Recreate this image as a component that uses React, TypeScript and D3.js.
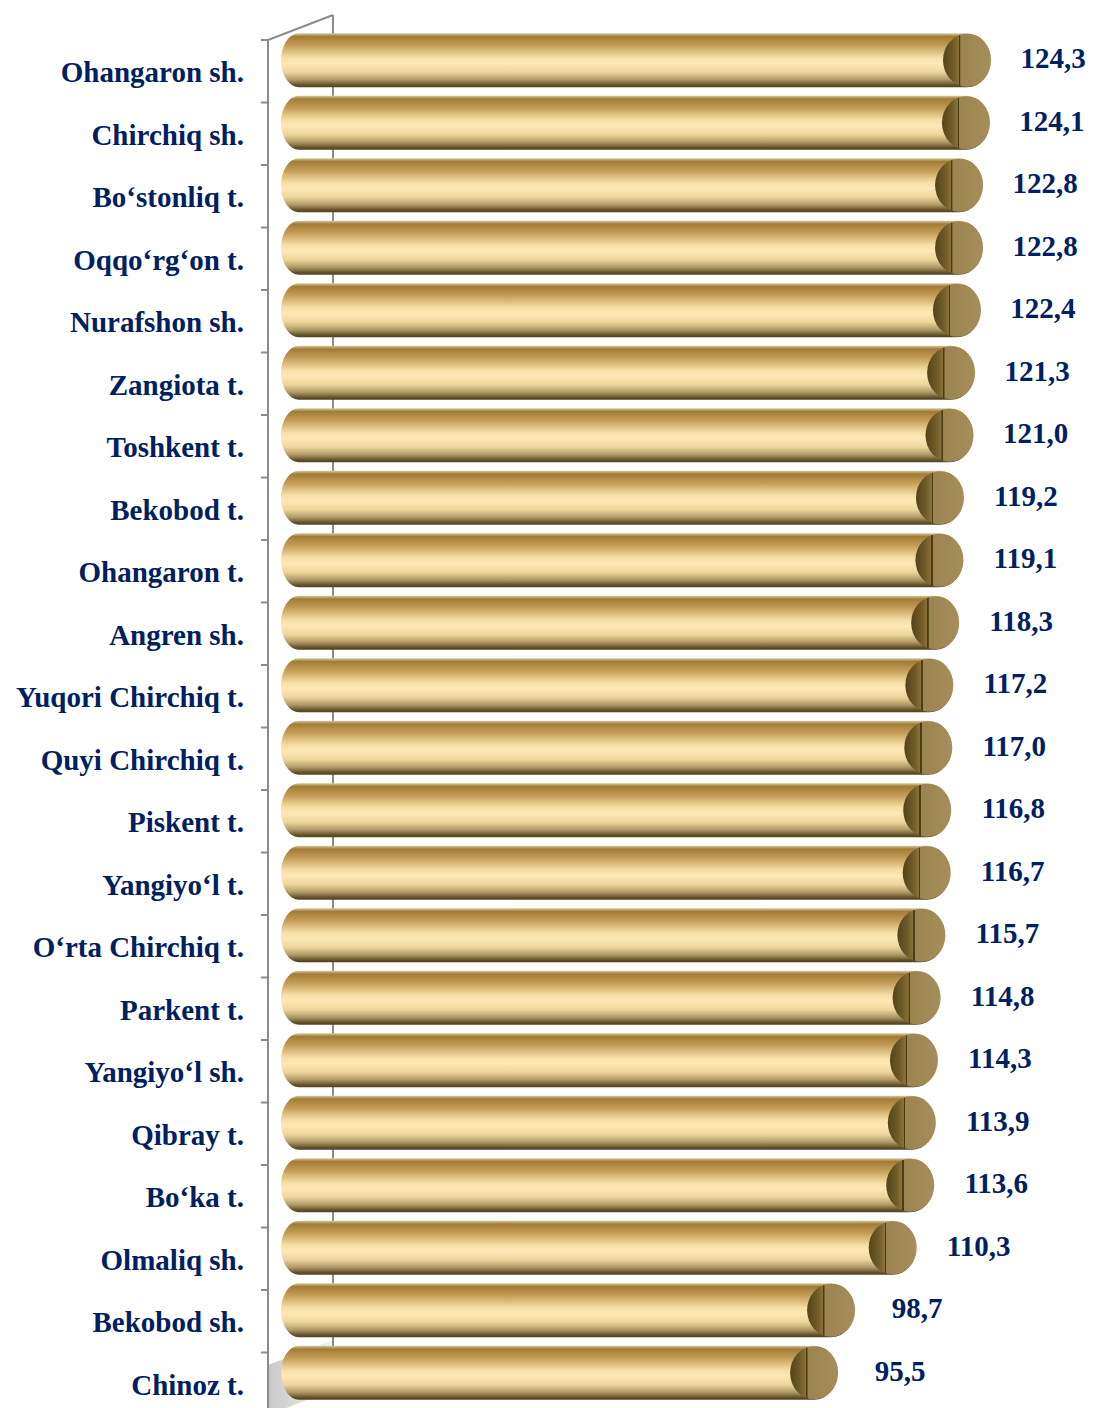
import * as d3 from 'd3';

const categories = [
  'Ohangaron sh.', 'Chirchiq sh.', 'Bo‘stonliq t.', 'Oqqo‘rg‘on t.', 'Nurafshon sh.',
  'Zangiota t.', 'Toshkent t.', 'Bekobod t.', 'Ohangaron t.', 'Angren sh.',
  'Yuqori Chirchiq t.', 'Quyi Chirchiq t.', 'Piskent t.', 'Yangiyo‘l t.', 'O‘rta Chirchiq t.',
  'Parkent t.', 'Yangiyo‘l sh.', 'Qibray t.', 'Bo‘ka t.', 'Olmaliq sh.',
  'Bekobod sh.', 'Chinoz t.',
];
const values = [
  124.3, 124.1, 122.8, 122.8, 122.4, 121.3, 121.0, 119.2, 119.1, 118.3, 117.2,
  117.0, 116.8, 116.7, 115.7, 114.8, 114.3, 113.9, 113.6, 110.3, 98.7, 95.5,
];

const W = 1102;
const H = 1408;
const frontX = 268;
const backX = 333;
const depth = 25; // vertical shift between front and back wall
const top = 40;
const navy = '#002060';
const axisGray = '#8c8c8c';

const fmt = (v: number) => d3.format('.1f')(v).replace('.', ',');

export default function App() {
  const y = d3.scaleBand<string>().domain(categories).range([top, top + categories.length * 62.5]).paddingInner(0);
  const x = d3.scaleLinear().domain([0, 130]).range([331, 331 + 130 * 5.31]);

  const barH = 54;
  const barLeft = 281;
  const rxL = 18;
  const rxR = 24;
  const ry = barH / 2;
  const last = y(categories[categories.length - 1])! + y.bandwidth();

  return (
    <svg width={W} height={H} style={{ position: 'absolute', left: 0, top: 0 }}>
      <defs>
        <linearGradient id="body" x1="0" y1="0" x2="0" y2="1">
          <stop offset="0" stopColor="#d6cba6" />
          <stop offset="0.06" stopColor="#a27c34" />
          <stop offset="0.22" stopColor="#c39b55" />
          <stop offset="0.45" stopColor="#f6dea6" />
          <stop offset="0.56" stopColor="#fde8b6" />
          <stop offset="0.72" stopColor="#eed59c" />
          <stop offset="0.86" stopColor="#b09a68" />
          <stop offset="0.96" stopColor="#625128" />
          <stop offset="1" stopColor="#4e4222" />
        </linearGradient>
        <linearGradient id="face" x1="0" y1="0" x2="1" y2="0">
          <stop offset="0" stopColor="#54441a" />
          <stop offset="0.2" stopColor="#6e5a28" />
          <stop offset="0.33" stopColor="#8a7238" />
          <stop offset="0.335" stopColor="#4a3c16" />
          <stop offset="0.36" stopColor="#4a3c16" />
          <stop offset="0.365" stopColor="#9c8450" />
          <stop offset="1" stopColor="#a68e5c" />
        </linearGradient>
        <linearGradient id="floor" x1="0" y1="0" x2="1" y2="0">
          <stop offset="0" stopColor="#c8c8c8" />
          <stop offset="1" stopColor="#f4f4f4" />
        </linearGradient>
      </defs>

      {/* walls */}
      <polygon
        points={`${frontX},${last - 50} ${backX},${last - 50 - depth} ${backX},${last - depth} ${frontX},${last}`}
        fill="url(#floor)"
      />
      <line x1={backX} x2={backX} y1={top - depth} y2={last - depth - 40} stroke={axisGray} strokeWidth={2} />
      <line x1={frontX} x2={backX} y1={top} y2={top - depth} stroke={axisGray} strokeWidth={2} />
      <line x1={frontX} x2={frontX} y1={top} y2={H} stroke={axisGray} strokeWidth={2} />
      {categories.map((c) => (
        <line key={'t' + c} x1={frontX - 7} x2={frontX} y1={y(c)!} y2={y(c)!} stroke={axisGray} strokeWidth={2} />
      ))}

      {/* bars */}
      {categories.map((c, i) => {
        const cy = y(c)! + y.bandwidth() / 2 - 11;
        const t = cy - ry;
        const b = cy + ry;
        const cx = x(values[i]) - rxR;
        const lc = barLeft + rxL;
        const d = `M${cx},${t} L${lc},${t} A${rxL},${ry} 0 0 0 ${lc},${b} L${cx},${b} A${rxR},${ry} 0 0 0 ${cx},${t} Z`;
        return (
          <g key={c}>
            <path d={d} fill="url(#body)" />
            <ellipse cx={cx} cy={cy} rx={rxR} ry={ry - 0.5} fill="url(#face)" />
            <text
              x={x(values[i]) + 62}
              y={cy - 2}
              dy="0.35em"
              textAnchor="middle"
              fontFamily="'Liberation Serif', 'Times New Roman', serif"
              fontWeight="bold"
              fontSize={29}
              fill={navy}
            >
              {fmt(values[i])}
            </text>
          </g>
        );
      })}

      {/* category labels */}
      {categories.map((c) => (
        <text
          key={'l' + c}
          x={244}
          y={y(c)! + y.bandwidth() / 2 + 1}
          dy="0.35em"
          textAnchor="end"
          fontFamily="'Liberation Serif', 'Times New Roman', serif"
          fontWeight="bold"
          fontSize={29}
          fill={navy}
        >
          {c}
        </text>
      ))}
    </svg>
  );
}
